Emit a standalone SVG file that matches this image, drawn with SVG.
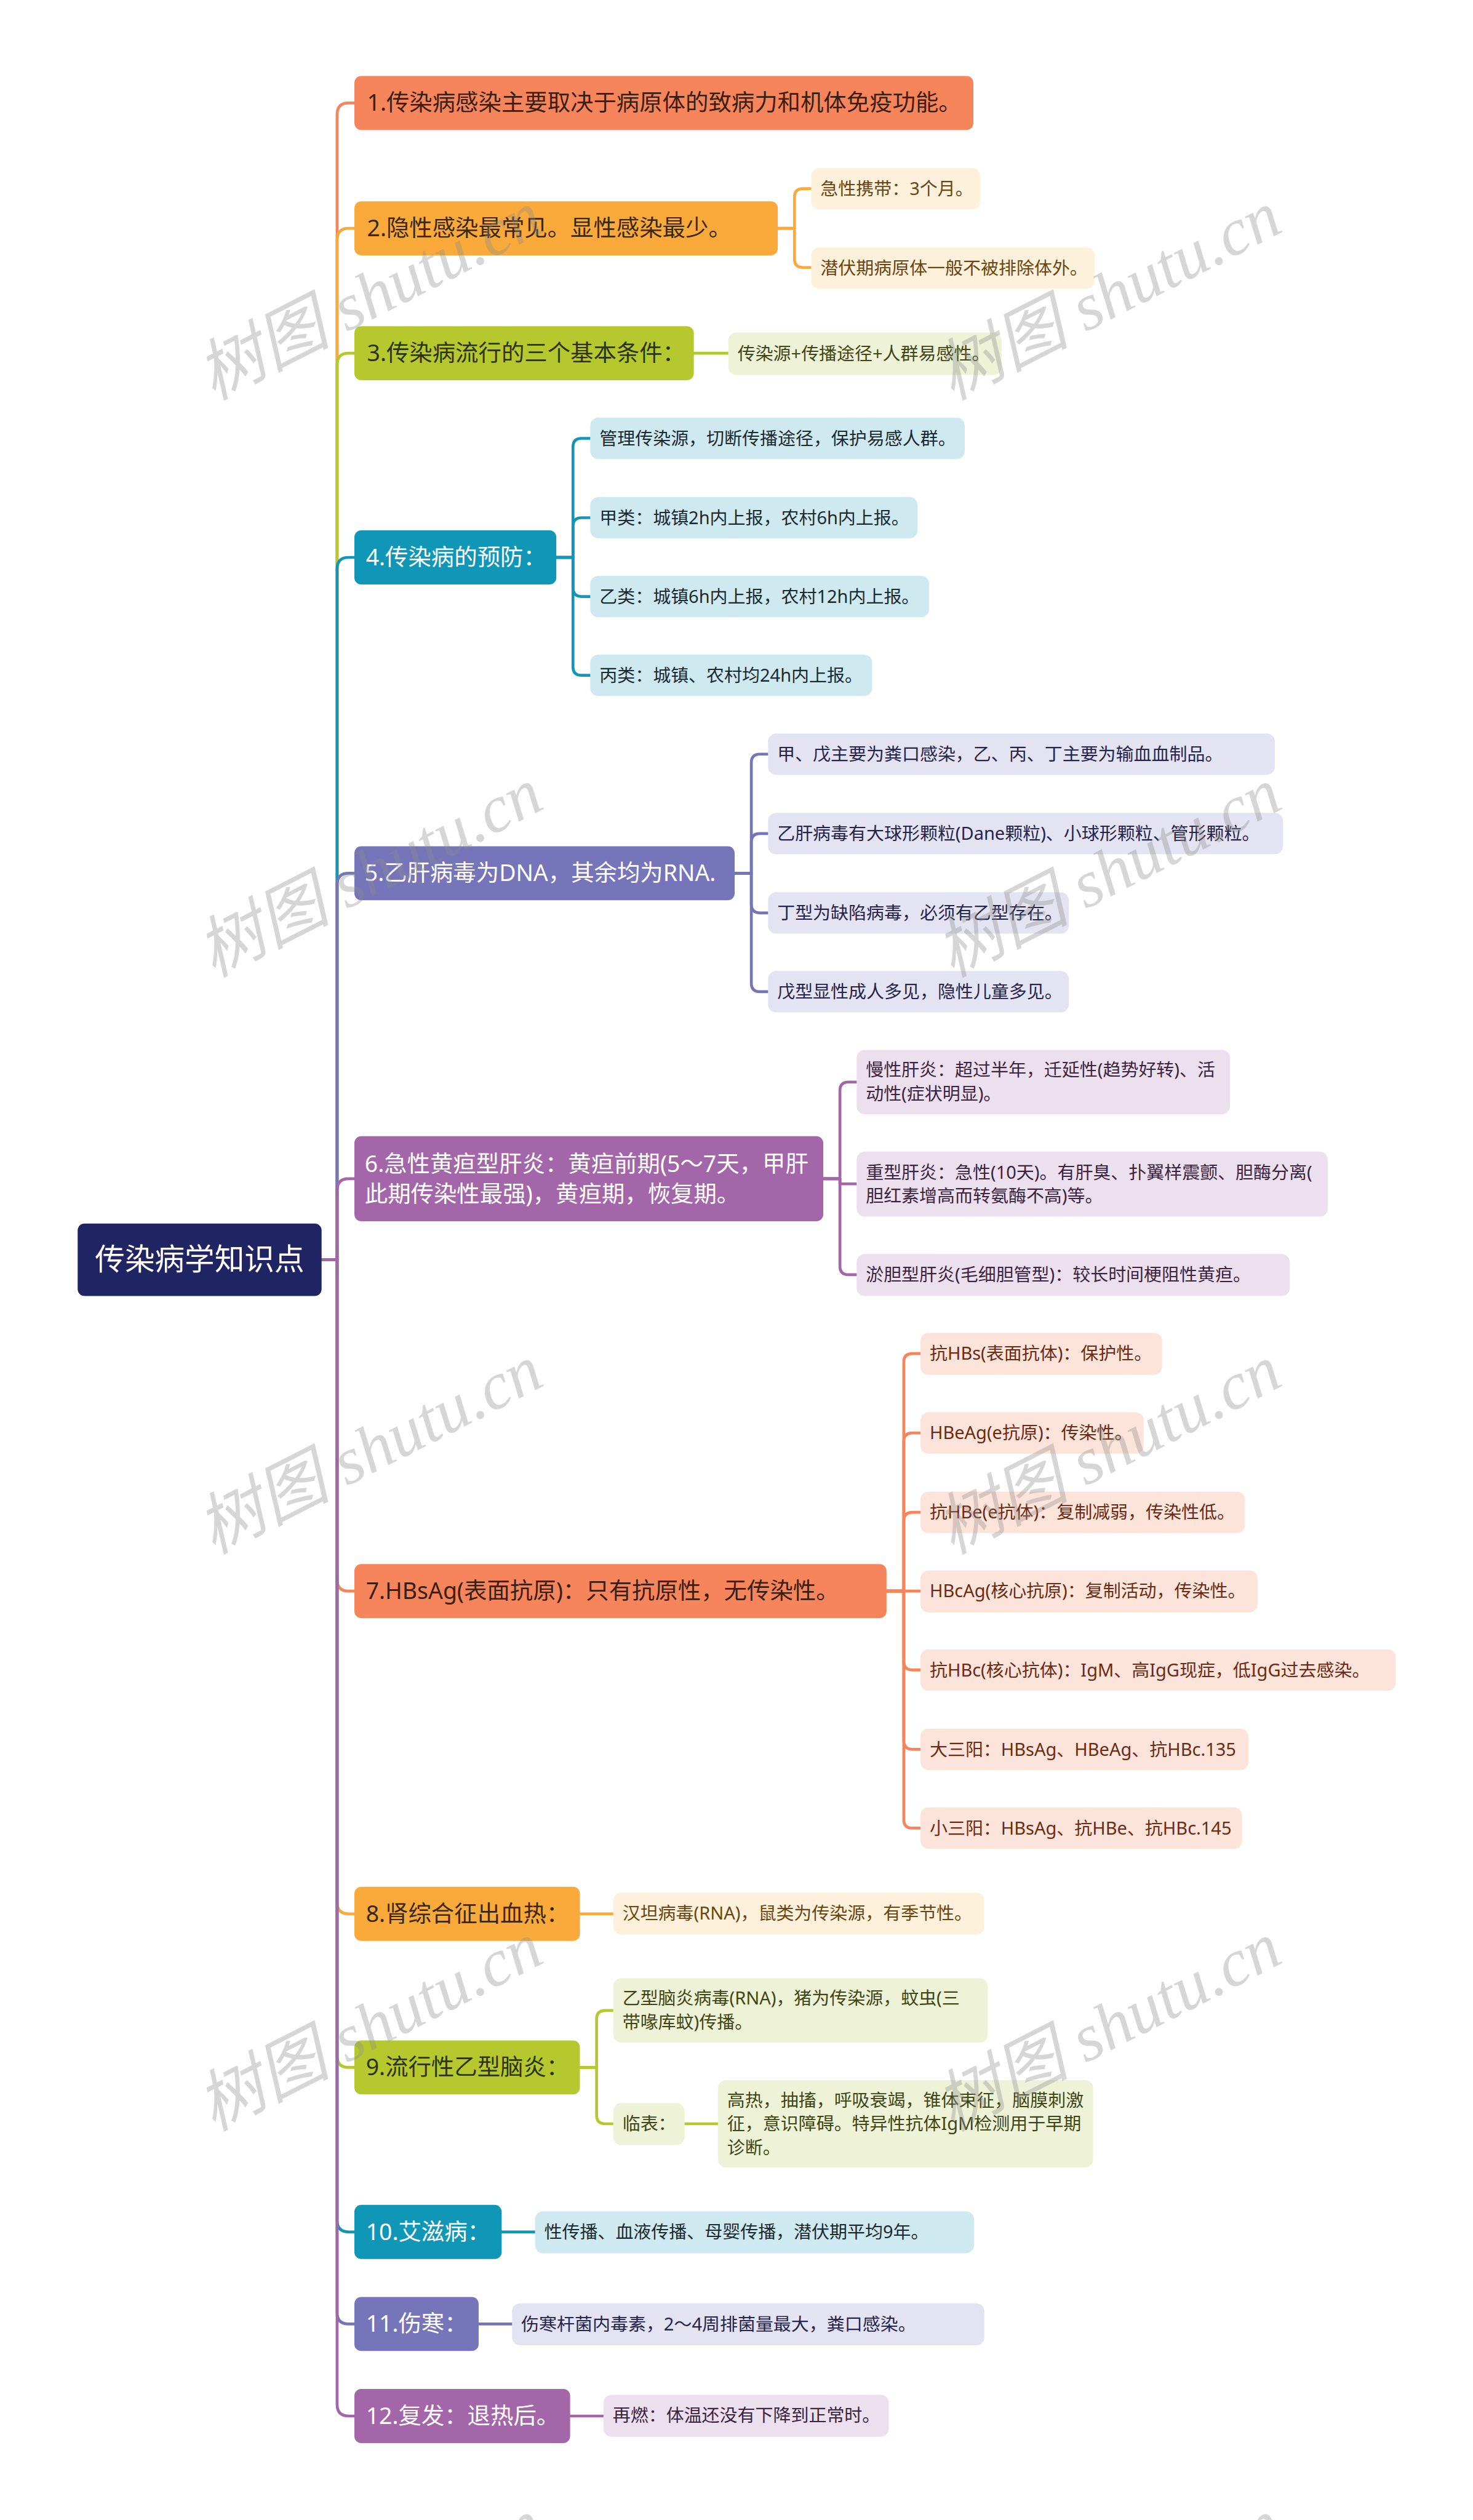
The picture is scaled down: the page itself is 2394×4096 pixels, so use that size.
<svg xmlns="http://www.w3.org/2000/svg" width="2394" height="4096" viewBox="0 0 2394 4096">
<style>
text{font-family:"Noto Sans","Noto Sans CJK SC",sans-serif;}
.m{font-size:40px;}
.c{font-size:31px;}
.r{font-size:52px;fill:#fff;}
.wt{fill:#fff;}
.k1{fill:#3a1e12;} .k2{fill:#3a2810;} .k3{fill:#2e3310;}
.ck1{fill:#6a2a14;} .ck2{fill:#6a4512;} .ck3{fill:#3f4616;} .ck4{fill:#1b2a30;} .ck5{fill:#25244c;} .ck6{fill:#3b2440;}
.f1{fill:#f7855b;} .f2{fill:#f9aa3b;} .f3{fill:#b5c92e;} .f4{fill:#1097b7;} .f5{fill:#7675ba;} .f6{fill:#a266a9;}
.b1{fill:#fde4da;} .b2{fill:#fdf1dc;} .b3{fill:#eef2d7;} .b4{fill:#cfe9f1;} .b5{fill:#e4e3f1;} .b6{fill:#ede0ee;}
.l{fill:none;stroke-width:5;stroke-linejoin:round;stroke-linecap:round;}
.s1{stroke:#f7855b;} .s2{stroke:#f9aa3b;} .s3{stroke:#b5c92e;} .s4{stroke:#1097b7;} .s5{stroke:#7675ba;} .s6{stroke:#a266a9;}
.wm{font-family:"Liberation Serif","Noto Sans CJK SC",serif;font-style:italic;font-size:116px;fill:#8c8c8c;opacity:0.35;}
</style>
<rect x="0" y="0" width="2394" height="4096" fill="#ffffff"/>
<g transform="scale(0.935)">
<g id="connectors">
<path class="l s1" d="M559,2190 H586 V199 Q586,179 606,179 H616"/>
<path class="l s2" d="M559,2190 H586 V417 Q586,397 606,397 H616"/>
<path class="l s3" d="M559,2190 H586 V634 Q586,614 606,614 H616"/>
<path class="l s4" d="M559,2190 H586 V989 Q586,969 606,969 H616"/>
<path class="l s5" d="M559,2190 H586 V1538 Q586,1518 606,1518 H616"/>
<path class="l s6" d="M559,2190 H586 V2069 Q586,2049 606,2049 H616"/>
<path class="l s1" d="M559,2190 H586 V2746 Q586,2766 606,2766 H616"/>
<path class="l s2" d="M559,2190 H586 V3307 Q586,3327 606,3327 H616"/>
<path class="l s3" d="M559,2190 H586 V3574 Q586,3594 606,3594 H616"/>
<path class="l s4" d="M559,2190 H586 V3860 Q586,3880 606,3880 H616"/>
<path class="l s5" d="M559,2190 H586 V4020 Q586,4040 606,4040 H616"/>
<path class="l s6" d="M559,2190 H586 V4180 Q586,4200 606,4200 H616"/>
<path class="l s2" d="M1352,397 H1381 V343 Q1381,328 1396,328 H1410"/>
<path class="l s2" d="M1352,397 H1381 V450 Q1381,465 1396,465 H1410"/>
<path class="l s3" d="M1206,614 H1266"/>
<path class="l s4" d="M967,969 H996 V777 Q996,762 1011,762 H1026"/>
<path class="l s4" d="M967,969 H996 V915 Q996,900 1011,900 H1026"/>
<path class="l s4" d="M967,969 H996 V1022 Q996,1037 1011,1037 H1026"/>
<path class="l s4" d="M967,969 H996 V1159 Q996,1174 1011,1174 H1026"/>
<path class="l s5" d="M1277,1518 H1306 V1326 Q1306,1311 1321,1311 H1335"/>
<path class="l s5" d="M1277,1518 H1306 V1464 Q1306,1449 1321,1449 H1335"/>
<path class="l s5" d="M1277,1518 H1306 V1572 Q1306,1587 1321,1587 H1335"/>
<path class="l s5" d="M1277,1518 H1306 V1709 Q1306,1724 1321,1724 H1335"/>
<path class="l s6" d="M1431,2049 H1460 V1896 Q1460,1881 1475,1881 H1489"/>
<path class="l s6" d="M1431,2049 H1460 V2058 H1489"/>
<path class="l s6" d="M1431,2049 H1460 V2201 Q1460,2216 1475,2216 H1489"/>
<path class="l s1" d="M1541,2766 H1571 V2368 Q1571,2353 1586,2353 H1600"/>
<path class="l s1" d="M1541,2766 H1571 V2506 Q1571,2491 1586,2491 H1600"/>
<path class="l s1" d="M1541,2766 H1571 V2644 Q1571,2629 1586,2629 H1600"/>
<path class="l s1" d="M1541,2766 H1600"/>
<path class="l s1" d="M1541,2766 H1571 V2888 Q1571,2903 1586,2903 H1600"/>
<path class="l s1" d="M1541,2766 H1571 V3026 Q1571,3041 1586,3041 H1600"/>
<path class="l s1" d="M1541,2766 H1571 V3163 Q1571,3178 1586,3178 H1600"/>
<path class="l s2" d="M1008,3327 H1066"/>
<path class="l s3" d="M1008,3594 H1037 V3510 Q1037,3495 1052,3495 H1066"/>
<path class="l s3" d="M1008,3594 H1037 V3677 Q1037,3692 1052,3692 H1066"/>
<path class="l s3" d="M1190,3692 H1248"/>
<path class="l s4" d="M872,3880 H930"/>
<path class="l s5" d="M832,4040 H890"/>
<path class="l s6" d="M991,4200 H1049"/>
</g>

<g id="root">
<rect x="135" y="2127" width="424" height="126" rx="12" fill="#212463"/>
<text class="r" x="347" y="2208" text-anchor="middle">传染病学知识点</text>
</g>

<g id="n1">
<rect class="f1" x="616" y="132" width="1076" height="94" rx="12"/>
<text class="m k1" x="638" y="193">1.传染病感染主要取决于病原体的致病力和机体免疫功能。</text>
</g>

<g id="n2">
<rect class="f2" x="616" y="350" width="736" height="94" rx="12"/>
<text class="m k2" x="638" y="411">2.隐性感染最常见。显性感染最少。</text>
</g>
<g id="n2c1">
<rect class="b2" x="1410" y="292" width="294" height="72" rx="14"/>
<text class="c ck2" x="1426" y="339">急性携带：3个月。</text>
</g>
<g id="n2c2">
<rect class="b2" x="1410" y="430" width="493" height="72" rx="14"/>
<text class="c ck2" x="1426" y="477">潜伏期病原体一般不被排除体外。</text>
</g>

<g id="n3">
<rect class="f3" x="616" y="567" width="590" height="94" rx="12"/>
<text class="m k3" x="638" y="628">3.传染病流行的三个基本条件：</text>
</g>
<g id="n3c1">
<rect class="b3" x="1266" y="578" width="475" height="74" rx="14"/>
<text class="c ck3" x="1282" y="626">传染源+传播途径+人群易感性。</text>
</g>

<g id="n4">
<rect class="f4" x="616" y="922" width="351" height="94" rx="12"/>
<text class="m wt" x="636" y="983">4.传染病的预防：</text>
</g>
<g id="n4c1">
<rect class="b4" x="1026" y="726" width="651" height="72" rx="14"/>
<text class="c ck4" x="1042" y="773">管理传染源，切断传播途径，保护易感人群。</text>
</g>
<g id="n4c2">
<rect class="b4" x="1026" y="864" width="569" height="72" rx="14"/>
<text class="c ck4" x="1042" y="911">甲类：城镇2h内上报，农村6h内上报。</text>
</g>
<g id="n4c3">
<rect class="b4" x="1026" y="1001" width="589" height="72" rx="14"/>
<text class="c ck4" x="1042" y="1048">乙类：城镇6h内上报，农村12h内上报。</text>
</g>
<g id="n4c4">
<rect class="b4" x="1026" y="1138" width="490" height="72" rx="14"/>
<text class="c ck4" x="1042" y="1185">丙类：城镇、农村均24h内上报。</text>
</g>

<g id="n5">
<rect class="f5" x="616" y="1471" width="661" height="94" rx="12"/>
<text class="m wt" x="634" y="1532">5.乙肝病毒为DNA，其余均为RNA.</text>
</g>
<g id="n5c1">
<rect class="b5" x="1335" y="1275" width="881" height="72" rx="14"/>
<text class="c ck5" x="1351" y="1322">甲、戊主要为粪口感染，乙、丙、丁主要为输血血制品。</text>
</g>
<g id="n5c2">
<rect class="b5" x="1335" y="1413" width="895" height="72" rx="14"/>
<text class="c ck5" x="1351" y="1460">乙肝病毒有大球形颗粒(Dane颗粒)、小球形颗粒、管形颗粒。</text>
</g>
<g id="n5c3">
<rect class="b5" x="1335" y="1551" width="523" height="72" rx="14"/>
<text class="c ck5" x="1351" y="1598">丁型为缺陷病毒，必须有乙型存在。</text>
</g>
<g id="n5c4">
<rect class="b5" x="1335" y="1688" width="523" height="72" rx="14"/>
<text class="c ck5" x="1351" y="1735">戊型显性成人多见，隐性儿童多见。</text>
</g>

<g id="n6">
<rect class="f6" x="616" y="1975" width="815" height="148" rx="12"/>
<text class="m wt" x="634" y="2037">6.急性黄疸型肝炎：黄疸前期(5～7天，甲肝</text>
<text class="m wt" x="634" y="2090">此期传染性最强)，黄疸期，恢复期。</text>
</g>
<g id="n6c1">
<rect class="b6" x="1489" y="1825" width="649" height="112" rx="14"/>
<text class="c ck6" x="1505" y="1871">慢性肝炎：超过半年，迁延性(趋势好转)、活</text>
<text class="c ck6" x="1505" y="1912">动性(症状明显)。</text>
</g>
<g id="n6c2">
<rect class="b6" x="1489" y="2002" width="819" height="113" rx="14"/>
<text class="c ck6" x="1505" y="2049">重型肝炎：急性(10天)。有肝臭、扑翼样震颤、胆酶分离(</text>
<text class="c ck6" x="1505" y="2090">胆红素增高而转氨酶不高)等。</text>
</g>
<g id="n6c3">
<rect class="b6" x="1489" y="2180" width="753" height="73" rx="14"/>
<text class="c ck6" x="1505" y="2227">淤胆型肝炎(毛细胆管型)：较长时间梗阻性黄疸。</text>
</g>

<g id="n7">
<rect class="f1" x="616" y="2719" width="925" height="94" rx="12"/>
<text class="m k1" x="636" y="2780">7.HBsAg(表面抗原)：只有抗原性，无传染性。</text>
</g>
<g id="n7c1">
<rect class="b1" x="1600" y="2317" width="420" height="73" rx="14"/>
<text class="c ck1" x="1616" y="2364">抗HBs(表面抗体)：保护性。</text>
</g>
<g id="n7c2">
<rect class="b1" x="1600" y="2455" width="388" height="72" rx="14"/>
<text class="c ck1" x="1616" y="2502">HBeAg(e抗原)：传染性。</text>
</g>
<g id="n7c3">
<rect class="b1" x="1600" y="2593" width="564" height="72" rx="14"/>
<text class="c ck1" x="1616" y="2640">抗HBe(e抗体)：复制减弱，传染性低。</text>
</g>
<g id="n7c4">
<rect class="b1" x="1600" y="2730" width="586" height="73" rx="14"/>
<text class="c ck1" x="1616" y="2777">HBcAg(核心抗原)：复制活动，传染性。</text>
</g>
<g id="n7c5">
<rect class="b1" x="1600" y="2867" width="826" height="72" rx="14"/>
<text class="c ck1" x="1616" y="2914">抗HBc(核心抗体)：IgM、高IgG现症，低IgG过去感染。</text>
</g>
<g id="n7c6">
<rect class="b1" x="1600" y="3005" width="570" height="72" rx="14"/>
<text class="c ck1" x="1616" y="3052">大三阳：HBsAg、HBeAg、抗HBc.135</text>
</g>
<g id="n7c7">
<rect class="b1" x="1600" y="3142" width="559" height="72" rx="14"/>
<text class="c ck1" x="1616" y="3189">小三阳：HBsAg、抗HBe、抗HBc.145</text>
</g>

<g id="n8">
<rect class="f2" x="616" y="3280" width="392" height="94" rx="12"/>
<text class="m k2" x="636" y="3341">8.肾综合征出血热：</text>
</g>
<g id="n8c1">
<rect class="b2" x="1066" y="3290" width="645" height="73" rx="14"/>
<text class="c ck2" x="1082" y="3337">汉坦病毒(RNA)，鼠类为传染源，有季节性。</text>
</g>

<g id="n9">
<rect class="f3" x="616" y="3547" width="392" height="94" rx="12"/>
<text class="m k3" x="636" y="3608">9.流行性乙型脑炎：</text>
</g>
<g id="n9c1">
<rect class="b3" x="1066" y="3439" width="651" height="112" rx="14"/>
<text class="c ck3" x="1082" y="3485">乙型脑炎病毒(RNA)，猪为传染源，蚊虫(三</text>
<text class="c ck3" x="1082" y="3526">带喙库蚊)传播。</text>
</g>
<g id="n9c2">
<rect class="b3" x="1066" y="3656" width="124" height="73" rx="14"/>
<text class="c ck3" x="1082" y="3703">临表：</text>
</g>
<g id="n9c2c1">
<rect class="b3" x="1248" y="3616" width="652" height="152" rx="14"/>
<text class="c ck3" x="1264" y="3662">高热，抽搐，呼吸衰竭，锥体束征，脑膜刺激</text>
<text class="c ck3" x="1264" y="3703">征，意识障碍。特异性抗体IgM检测用于早期</text>
<text class="c ck3" x="1264" y="3744">诊断。</text>
</g>

<g id="n10">
<rect class="f4" x="616" y="3833" width="256" height="94" rx="12"/>
<text class="m wt" x="636" y="3894">10.艾滋病：</text>
</g>
<g id="n10c1">
<rect class="b4" x="930" y="3844" width="763" height="73" rx="14"/>
<text class="c ck4" x="946" y="3891">性传播、血液传播、母婴传播，潜伏期平均9年。</text>
</g>

<g id="n11">
<rect class="f5" x="616" y="3993" width="216" height="94" rx="12"/>
<text class="m wt" x="636" y="4054">11.伤寒：</text>
</g>
<g id="n11c1">
<rect class="b5" x="890" y="4004" width="821" height="73" rx="14"/>
<text class="c ck5" x="906" y="4051">伤寒杆菌内毒素，2～4周排菌量最大，粪口感染。</text>
</g>

<g id="n12">
<rect class="f6" x="616" y="4153" width="375" height="94" rx="12"/>
<text class="m wt" x="636" y="4214">12.复发：退热后。</text>
</g>
<g id="n12c1">
<rect class="b6" x="1049" y="4163" width="496" height="73" rx="14"/>
<text class="c ck6" x="1065" y="4210">再燃：体温还没有下降到正常时。</text>
</g>

<g id="watermarks">
<text class="wm" text-anchor="middle" dy="40" transform="translate(642,513) rotate(-27)">树图 shutu.cn</text>
<text class="wm" text-anchor="middle" dy="40" transform="translate(1926,513) rotate(-27)">树图 shutu.cn</text>
<text class="wm" text-anchor="middle" dy="40" transform="translate(642,1516) rotate(-27)">树图 shutu.cn</text>
<text class="wm" text-anchor="middle" dy="40" transform="translate(1926,1516) rotate(-27)">树图 shutu.cn</text>
<text class="wm" text-anchor="middle" dy="40" transform="translate(642,2519) rotate(-27)">树图 shutu.cn</text>
<text class="wm" text-anchor="middle" dy="40" transform="translate(1926,2519) rotate(-27)">树图 shutu.cn</text>
<text class="wm" text-anchor="middle" dy="40" transform="translate(642,3522) rotate(-27)">树图 shutu.cn</text>
<text class="wm" text-anchor="middle" dy="40" transform="translate(1926,3522) rotate(-27)">树图 shutu.cn</text>
<text class="wm" text-anchor="middle" dy="40" transform="translate(642,4525) rotate(-27)">树图 shutu.cn</text>
<text class="wm" text-anchor="middle" dy="40" transform="translate(1926,4525) rotate(-27)">树图 shutu.cn</text>
</g>
</g>
</svg>
